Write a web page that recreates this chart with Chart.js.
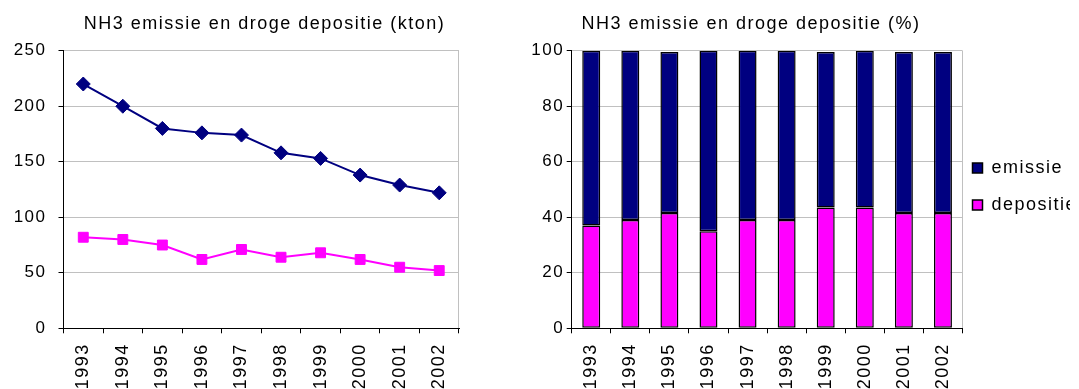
<!DOCTYPE html>
<html>
<head>
<meta charset="utf-8">
<title>NH3 emissie en droge depositie</title>
<script src="https://cdn.jsdelivr.net/npm/chart.js@4/dist/chart.umd.min.js"></script>
<style>
  html, body { margin: 0; padding: 0; background: #ffffff; width: 1079px; height: 389px; overflow: hidden; }
  #kton { position: absolute; left: 0; top: 0; }
  #pct { position: absolute; left: 423px; top: 0; }
</style>
</head>
<body>
<canvas id="kton" width="529" height="389"></canvas>
<canvas id="pct" width="656" height="389"></canvas>
<script>
// Jaren op de x-as
const years = ['1993', '1994', '1995', '1996', '1997', '1998', '1999', '2000', '2001', '2002'];

// NH3 in kton
const emissieKton   = [220, 200, 180, 176, 174, 158, 153, 138, 129, 122];
const depositieKton = [82, 80, 75, 62, 71, 64, 68, 62, 55, 52];

// Aandeel in procenten
const emissiePct   = [63, 61, 58, 65, 61, 61, 56, 56.5, 58, 58];
const depositiePct = [37, 39, 41.5, 35, 39, 39, 43.5, 43.5, 41.5, 41.5];

// As-instellingen
const ktonMax = 250, ktonStep = 50;
const pctMax = 100, pctStep = 20;

const NAVY = '#000080';
const MAGENTA = '#FF00FF';
const GRID = '#c0c0c0';
const FONT = "'Liberation Sans', Arial, sans-serif";

Chart.defaults.font.family = FONT;
Chart.defaults.color = '#000000';

// Slightly wider letter spacing for all canvas text
const spacing = {
  id: 'spacing',
  beforeLayout(chart) { chart.ctx.letterSpacing = '1.5px'; },
  beforeDraw(chart) { chart.ctx.letterSpacing = '1.5px'; }
};

// Shifts the title and legend boxes after the layout has been computed
const nudge = {
  id: 'nudge',
  afterLayout(chart, args, opts) {
    for (const key of ['legend', 'titleBlock']) {
      const box = chart[key];
      const d = opts && opts[key];
      if (!box || !d) continue;
      box.left += d.dx || 0; box.right += d.dx || 0;
      box.top += d.dy || 0; box.bottom += d.dy || 0;
    }
  }
};

// only the closing line on the right edge of the plot area is visible
const edgeLine = c => (c.type === 'tick' ? 'rgba(0,0,0,0)' : GRID);

function titleOpts(text) {
  return {
    display: true,
    text: text,
    color: '#000',
    font: { size: 18, weight: 'normal', family: FONT },
    padding: { top: 12, bottom: 17.1 },
    fullSize: true
  };
}

function xAxis() {
  return {
    type: 'category',
    offset: true,
    grid: { offset: true, color: edgeLine, tickColor: '#000', tickLength: 5, lineWidth: 1 },
    border: { color: '#000', width: 1 },
    ticks: { minRotation: 90, maxRotation: 90, autoSkip: false, padding: 10, font: { size: 18 }, color: '#000' },
    afterFit(s) { s.height = 60.7; }
  };
}

function yAxis(max, step, width, pad) {
  return {
    min: 0,
    max: max,
    grid: { color: GRID, tickColor: '#000', tickLength: 5, lineWidth: 1 },
    border: { color: '#000', width: 1 },
    ticks: { stepSize: step, padding: pad, font: { size: 17 }, color: '#000' },
    afterFit(s) { s.width = width; }
  };
}

new Chart(document.getElementById('kton'), {
  type: 'line',
  data: {
    labels: years,
    datasets: [
      {
        label: 'emissie',
        data: emissieKton,
        borderColor: NAVY,
        backgroundColor: NAVY,
        borderWidth: 2,
        pointStyle: 'rectRot',
        pointRadius: 7,
        pointBorderWidth: 1,
        pointBackgroundColor: NAVY,
        pointBorderColor: NAVY,
        tension: 0
      },
      {
        label: 'depositie',
        data: depositieKton,
        borderColor: MAGENTA,
        backgroundColor: MAGENTA,
        borderWidth: 2,
        pointStyle: 'rect',
        pointRadius: 7,
        pointBorderWidth: 1,
        pointBackgroundColor: MAGENTA,
        pointBorderColor: MAGENTA,
        tension: 0
      }
    ]
  },
  options: {
    responsive: false,
    devicePixelRatio: 1,
    animation: false,
    layout: { padding: { left: 0, right: 70, top: 0, bottom: 0 } },
    plugins: {
      title: titleOpts('NH3 emissie en droge depositie (kton)'),
      legend: { display: false },
      tooltip: { enabled: false },
      nudge: { titleBlock: { dx: 35, dy: 1 } }
    },
    scales: {
      x: xAxis(),
      y: yAxis(ktonMax, ktonStep, 63.5, 12)
    }
  },
  plugins: [spacing, nudge]
});

new Chart(document.getElementById('pct'), {
  type: 'bar',
  data: {
    labels: years,
    datasets: [
      {
        label: 'depositie',
        data: depositiePct,
        backgroundColor: MAGENTA,
        borderColor: '#000',
        borderWidth: 1.5,
        borderSkipped: false
      },
      {
        label: 'emissie',
        data: emissiePct,
        backgroundColor: NAVY,
        borderColor: '#000',
        borderWidth: 1.5,
        borderSkipped: false
      }
    ]
  },
  options: {
    responsive: false,
    devicePixelRatio: 1,
    animation: false,
    categoryPercentage: 1,
    barPercentage: 0.46,
    layout: { padding: { left: 0, right: 0, top: 0, bottom: 0 } },
    plugins: {
      title: titleOpts('NH3 emissie en droge depositie (%)'),
      legend: {
        display: true,
        position: 'right',
        align: 'center',
        fullSize: false,
        reverse: true,
        maxWidth: 116.5,
        labels: { boxWidth: 10, boxHeight: 10, padding: 19, color: '#000', font: { size: 18 } }
      },
      tooltip: { enabled: false },
      nudge: { legend: { dx: -9, dy: -3 }, titleBlock: { dx: 0, dy: 1 } }
    },
    scales: {
      x: Object.assign(xAxis(), { stacked: true }),
      y: Object.assign(yAxis(pctMax, pctStep, 148.7, 2.5), { stacked: true })
    }
  },
  plugins: [spacing, nudge]
});
</script>
</body>
</html>
